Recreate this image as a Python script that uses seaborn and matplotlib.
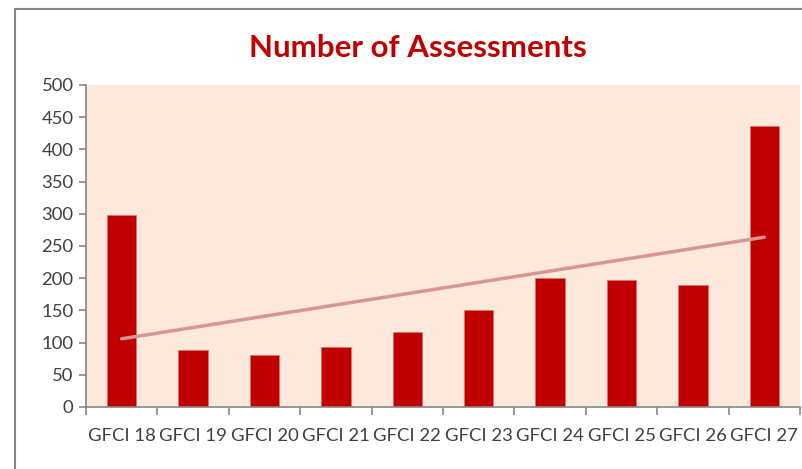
import numpy as np
import pandas as pd
import matplotlib
matplotlib.use("Agg")
import matplotlib.pyplot as plt
import seaborn as sns
from matplotlib.lines import Line2D

# Datos
ediciones = ["GFCI 18", "GFCI 19", "GFCI 20", "GFCI 21", "GFCI 22",
             "GFCI 23", "GFCI 24", "GFCI 25", "GFCI 26", "GFCI 27"]
evaluaciones = [298, 88, 80, 93, 116, 150, 201, 197, 189, 436]
titulo = "Number of Assessments"
y_ticks = [0, 50, 100, 150, 200, 250, 300, 350, 400, 450, 500]

df = pd.DataFrame({"Edicion": ediciones, "Evaluaciones": evaluaciones})
df["idx"] = range(len(df))

sns.set_style("white")
plt.rcParams["font.family"] = ["Lato", "DejaVu Sans"]

fig = plt.figure(figsize=(8.02, 4.69), dpi=100)
ax = fig.add_axes([0.1072, 0.1322, 0.8903, 0.6866])
ax.set_facecolor("#FCE9DB")

sns.barplot(data=df, x="Edicion", y="Evaluaciones", color="#C00000",
            saturation=1, width=0.41, linewidth=0.6, edgecolor="#E07070", ax=ax)

# linea de tendencia lineal
sns.regplot(data=df, x="idx", y="Evaluaciones", scatter=False, ci=None,
            truncate=True, ax=ax,
            line_kws={"color": "#D99594", "linewidth": 2.5})

ax.set_xlim(-0.5, 9.5)
ax.set_ylim(0, 500)
ax.set_yticks(y_ticks)
ax.set_xlabel("")
ax.set_ylabel("")

for s in ["top", "right"]:
    ax.spines[s].set_visible(False)
for s in ["left", "bottom"]:
    ax.spines[s].set_color("#868686")
    ax.spines[s].set_linewidth(1.2)

ax.tick_params(axis="y", direction="out", length=5, width=1.2, color="#868686",
               labelsize=13.3, labelcolor="#404040", pad=4, left=True)
ax.set_xticks(np.arange(-0.5, 10, 1), minor=True)
ax.tick_params(axis="x", which="major", length=0, labelsize=13.3,
               labelcolor="#404040", pad=15)
ax.tick_params(axis="x", which="minor", direction="out", length=6, width=1.2,
               color="#868686", bottom=True)

fig.text(0.521, 0.897, titulo, ha="center", va="center", fontsize=22.5,
         fontweight="bold", color="#C00000")

# marco del grafico
fig.add_artist(Line2D([0.0187, 0.0187], [0.0, 0.9808], transform=fig.transFigure,
                      color="#868686", linewidth=1.5))
fig.add_artist(Line2D([0.0187, 1.0], [0.9808, 0.9808], transform=fig.transFigure,
                      color="#868686", linewidth=1.5))

fig.savefig("out.png", dpi=100)
